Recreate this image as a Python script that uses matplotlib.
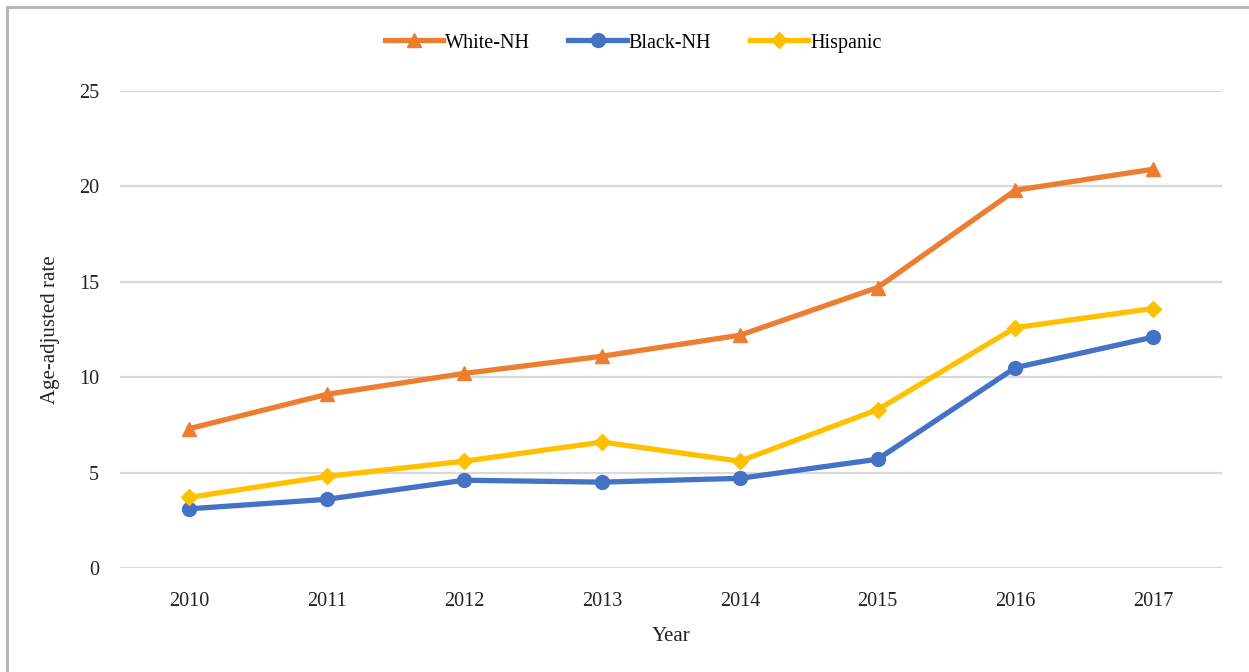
import matplotlib
matplotlib.use("Agg")
import matplotlib.pyplot as plt
from matplotlib.patches import Rectangle

years = ["2010", "2011", "2012", "2013", "2014", "2015", "2016", "2017"]
white_nh = [7.3, 9.1, 10.2, 11.1, 12.2, 14.7, 19.8, 20.9]
black_nh = [3.1, 3.6, 4.6, 4.5, 4.7, 5.7, 10.5, 12.1]
hispanic = [3.7, 4.8, 5.6, 6.6, 5.6, 8.3, 12.6, 13.6]
yticks = [0, 5, 10, 15, 20, 25]

plt.rcParams['font.family'] = ['Liberation Serif', 'DejaVu Serif']

W, H = 1249, 672
fig = plt.figure(figsize=(W / 100, H / 100), dpi=100)
ax = fig.add_axes([120 / W, 1 - 568 / H, (1222 - 120) / W, (568 - 91) / H])

x = list(range(len(years)))
ax.plot(x, white_nh, color="#ED7D31", lw=3.8, marker="^", ms=10, label="White-NH", zorder=3)
ax.plot(x, black_nh, color="#4472C4", lw=3.8, marker="o", ms=10, label="Black-NH", zorder=3)
ax.plot(x, hispanic, color="#FFC000", lw=3.8, marker="D", ms=8, label="Hispanic", zorder=3)

ax.set_xlim(-0.5, len(years) - 0.5)
ax.set_ylim(0, 25)
ax.set_yticks(yticks)
ax.set_xticks(x)
ax.set_xticklabels(years)
ax.tick_params(axis="both", length=0, labelsize=14.5, colors="#222222")
ax.tick_params(axis="x", pad=17)
ax.tick_params(axis="y", pad=15)
ax.grid(axis="y", color="#d9d9d9", lw=1.6)
ax.set_axisbelow(True)
for s in ax.spines.values():
    s.set_visible(False)

ax.set_xlabel("Year", fontsize=15, labelpad=12, color="#222222")
ax.set_ylabel("Age-adjusted rate", fontsize=15, labelpad=14, color="#222222")

leg = fig.legend(loc="center", bbox_to_anchor=(633 / W, 1 - 43 / H), ncol=3, frameon=False,
                 fontsize=14.5, handlelength=2.9, columnspacing=1.9, handletextpad=0.1)

fig.patches.append(Rectangle((7 / W, -0.1), 1.2, 1 - 7 / H + 0.1, transform=fig.transFigure,
                             fill=False, edgecolor="#b8b8b8", lw=2.2))

fig.savefig("out.png", dpi=100)
